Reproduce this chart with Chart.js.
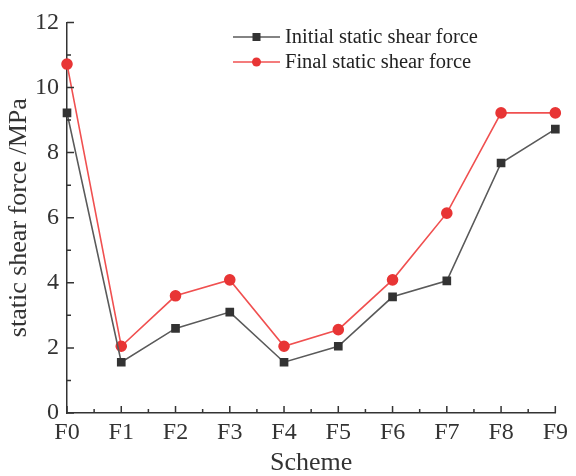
<!DOCTYPE html>
<html>
<head>
<meta charset="utf-8">
<script src="https://cdn.jsdelivr.net/npm/chart.js@4"></script>
<style>
  html, body { margin: 0; padding: 0; background: #fff; }
  #wrap { width: 576px; height: 476px; }
</style>
</head>
<body>
<div id="wrap"><canvas id="c"></canvas></div>
<script>
const schemes = ['F0', 'F1', 'F2', 'F3', 'F4', 'F5', 'F6', 'F7', 'F8', 'F9'];
const initialShear = [9.22, 1.56, 2.6, 3.1, 1.56, 2.05, 3.57, 4.06, 7.68, 8.72];
const finalShear = [10.72, 2.05, 3.6, 4.09, 2.05, 2.56, 4.09, 6.14, 9.22, 9.22];
const yTicks = [0, 2, 4, 6, 8, 10, 12];

Chart.defaults.font.family = "'Liberation Serif', 'Times New Roman', serif";
Chart.defaults.color = '#333';

// inward major + minor ticks, drawn along the axis lines
const innerTicks = {
  id: 'innerTicks',
  afterDraw(chart) {
    const { ctx, chartArea: a, scales: { x, y } } = chart;
    ctx.save();
    ctx.strokeStyle = '#333';
    ctx.lineWidth = 1.5;
    ctx.beginPath();
    for (let v = 0; v <= 12; v += 1) {
      const py = y.getPixelForValue(v);
      const len = v % 2 === 0 ? 7 : 4;
      ctx.moveTo(a.left, py);
      ctx.lineTo(a.left + len, py);
    }
    for (let i = 0; i <= 9; i += 0.5) {
      const px = x.getPixelForValue(i);
      const len = Number.isInteger(i) ? 7 : 4;
      ctx.moveTo(px, a.bottom);
      ctx.lineTo(px, a.bottom - len);
    }
    ctx.stroke();
    ctx.restore();
  }
};

// legend inside the plot area
const innerLegend = {
  id: 'innerLegend',
  afterDraw(chart) {
    const { ctx } = chart;
    ctx.save();
    ctx.font = "20.5px 'Liberation Serif', serif";
    ctx.textBaseline = 'middle';
    chart.data.datasets.forEach((ds, i) => {
      const ly = 37 + i * 25;
      const lx = 233;
      ctx.strokeStyle = ds.borderColor;
      ctx.lineWidth = 1.5;
      ctx.beginPath();
      ctx.moveTo(lx, ly);
      ctx.lineTo(lx + 47, ly);
      ctx.stroke();
      ctx.fillStyle = ds.pointBackgroundColor;
      if (ds.pointStyle === 'rect') {
        ctx.fillRect(lx + 19.5, ly - 4, 8, 8);
      } else {
        ctx.beginPath();
        ctx.arc(lx + 23.5, ly, 4.5, 0, Math.PI * 2);
        ctx.fill();
      }
      ctx.fillStyle = '#222';
      ctx.fillText(ds.label, lx + 52, ly + 1);
    });
    ctx.restore();
  }
};

new Chart(document.getElementById('c'), {
  type: 'line',
  data: {
    labels: schemes,
    datasets: [
      {
        label: 'Initial static shear force',
        data: initialShear,
        borderColor: '#5a5a5a',
        pointBackgroundColor: '#333',
        pointBorderColor: '#333',
        pointStyle: 'rect',
        pointRadius: 5,
        borderWidth: 1.6,
        tension: 0
      },
      {
        label: 'Final static shear force',
        data: finalShear,
        borderColor: '#f05050',
        pointBackgroundColor: '#e83535',
        pointBorderColor: '#e83535',
        pointStyle: 'circle',
        pointRadius: 5,
        borderWidth: 1.6,
        tension: 0
      }
    ]
  },
  options: {
    responsive: true,
    maintainAspectRatio: false,
    animation: false,
    layout: { padding: { top: 6, right: 19, left: 4, bottom: 0 } },
    plugins: {
      legend: { display: false },
      tooltip: { enabled: false }
    },
    scales: {
      x: {
        offset: false,
        afterFit: s => { s.height = 63; },
        grid: { display: false, drawTicks: false },
        border: { color: '#333', width: 1.5 },
        ticks: { color: '#333', font: { size: 24, lineHeight: 1 }, padding: 8, maxRotation: 0 },
        title: { display: true, text: 'Scheme', color: '#333', font: { size: 26, lineHeight: 1 }, padding: { top: 0, bottom: 0 } }
      },
      y: {
        min: 0,
        max: 12,
        afterFit: s => { s.width = 63; },
        afterBuildTicks: s => { s.ticks = yTicks.map(v => ({ value: v })); },
        grid: { display: false, drawTicks: false },
        border: { color: '#333', width: 1.5 },
        ticks: { color: '#333', font: { size: 24 }, padding: 8 },
        title: { display: true, text: 'static shear force /MPa', color: '#333', font: { size: 26, lineHeight: 1.2 }, padding: { top: 0, bottom: 0 } }
      }
    }
  },
  plugins: [innerTicks, innerLegend]
});
</script>
</body>
</html>
